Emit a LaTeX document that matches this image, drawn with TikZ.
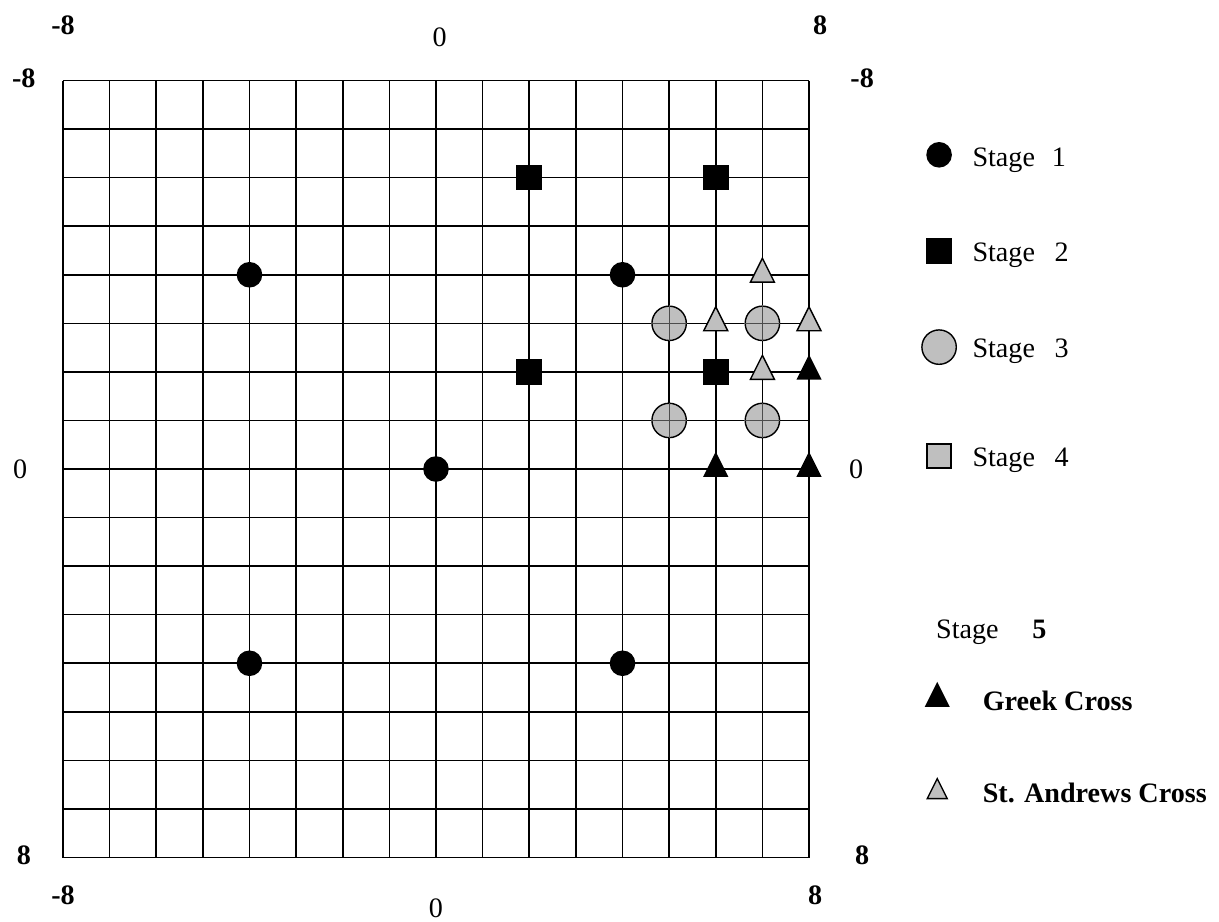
\documentclass[tikz,border=0pt]{standalone}
\usepackage{fontspec}
\setmainfont{Liberation Serif}
\usetikzlibrary{shapes.geometric}

\tikzset{
  stageone/.style={circle,fill=black,inner sep=0pt,minimum size=0.64cm},
  stagetwo/.style={rectangle,fill=black,inner sep=0pt,minimum size=0.64cm},
  stagethree/.style={circle,draw=black,line width=1pt,fill=gray!50,inner sep=0pt,minimum size=0.86cm},
  stagefour/.style={rectangle,draw=black,line width=1pt,fill=gray!50,inner sep=0pt,minimum size=0.6cm},
  tri/.style={isosceles triangle,isosceles triangle apex angle=53.13,shape border rotate=90,inner sep=0pt,minimum width=#1,minimum height=#1},
  greek/.style={tri=0.63cm,fill=black},
  andrews/.style={tri=0.6cm,draw=black,line width=1pt,fill=gray!50},
  ticklabel/.style={font=\fontsize{20}{24}\selectfont\bfseries},
  zerolabel/.style={font=\fontsize{20}{24}\selectfont},
  legtext/.style={anchor=west,font=\fontsize{20}{24}\selectfont},
}

\begin{document}
\begin{tikzpicture}[x=1.1656cm,y=-1.214cm]
    \useasboundingbox (-9.351,-9.658) rectangle (16.793,9.308);

    % Grid
    \foreach \i in {-8,...,8} {
        \draw[line width=1.1pt] (\i,-8) -- (\i,8);
        \draw[line width=1.1pt] (-8,\i) -- (8,\i);
    }

    % Axis labels
    \node[ticklabel] (tl) at (-8,-9.14) {-8};
    \node[zerolabel] (tc) at (0.08,-8.88) {0};
    \node[ticklabel] (tr) at (8.24,-9.14) {8};
    \node[ticklabel] (lt) at (-8.84,-8.05) {-8};
    \node[zerolabel] (lc) at (-8.92,0) {0};
    \node[ticklabel] (lb) at (-8.84,7.95) {8};
    \node[ticklabel] (rt) at (9.14,-8.05) {-8};
    \node[zerolabel] (rc) at (9.01,0) {0};
    \node[ticklabel] (rb) at (9.14,7.95) {8};
    \node[ticklabel] (bl) at (-8,8.77) {-8};
    \node[zerolabel] (bc) at (0,9.04) {0};
    \node[ticklabel] (br) at (8.13,8.77) {8};

    % Stage 1
    \node[stageone] (a1) at (-4,-4) {};
    \node[stageone] (a2) at (4,-4) {};
    \node[stageone] (a3) at (0,0) {};
    \node[stageone] (a4) at (-4,4) {};
    \node[stageone] (a5) at (4,4) {};

    % Stage 2
    \node[stagetwo] (b1) at (2,-6) {};
    \node[stagetwo] (b2) at (6,-6) {};
    \node[stagetwo] (b3) at (2,-2) {};
    \node[stagetwo] (b4) at (6,-2) {};

    % Stage 3
    \foreach \n/\p in {c1/{(5,-3)},c2/{(7,-3)},c3/{(5,-1)},c4/{(7,-1)}} {
        \node[stagethree] (\n) at \p {};
        \draw[gray!60!black,line width=0.8pt] (\n.north) -- (\n.south) (\n.west) -- (\n.east);
    }

    % Stage 5
    \node[greek] (g1) at (6,0) {};
    \node[greek] (g2) at (8,0) {};
    \node[greek] (g3) at (8,-2) {};
    \node[andrews] (s1) at (7,-4) {};
    \node[andrews] (s2) at (6,-3) {};
    \node[andrews] (s3) at (8,-3) {};
    \node[andrews] (s4) at (7,-2) {};

    % Legend
    \node[stageone] (k1) at (10.79,-6.47) {};
    \node[legtext] (t1) at (11.4,-6.36) {Stage\hspace{0.6em}1};
    \node[stagetwo] (k2) at (10.79,-4.49) {};
    \node[legtext] (t2) at (11.4,-4.4) {Stage\hspace{0.7em}2};
    \node[stagethree] (k3) at (10.79,-2.51) {};
    \node[legtext] (t3) at (11.4,-2.42) {Stage\hspace{0.7em}3};
    \node[stagefour] (k4) at (10.79,-0.27) {};
    \node[legtext] (t4) at (11.4,-0.18) {Stage\hspace{0.7em}4};
    \node[legtext] (t5) at (10.62,3.36) {Stage\hspace{1.2em}\textbf{5}};
    \node[greek] (k5) at (10.75,4.74) {};
    \node[legtext] (t6) at (11.62,4.78) {\textbf{Greek Cross}};
    \node[andrews,tri=0.5cm] (k6) at (10.75,6.66) {};
    \node[legtext] (t7) at (11.62,6.68) {\textbf{St. Andrews Cross}};
\end{tikzpicture}
\end{document}
